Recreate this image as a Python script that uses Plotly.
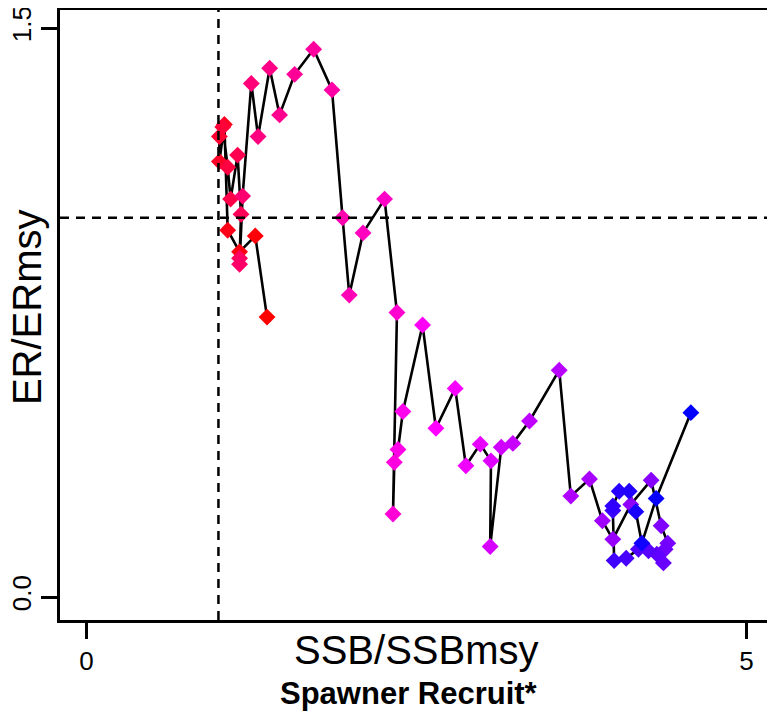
import plotly.graph_objects as go

# Data (time ordered: earliest first)
ssb_ratio = [1.368, 1.279, 1.160, 1.070, 1.045, 1.007, 1.007, 1.033, 1.070, 1.092,
             1.145, 1.171, 1.160, 1.160, 1.183, 1.249, 1.300, 1.388, 1.463, 1.577,
             1.721, 1.860, 1.940, 1.991, 2.095, 2.258, 2.352, 2.322, 2.332, 2.360,
             2.397, 2.546, 2.647, 2.793, 2.874, 2.983, 3.064, 3.058, 3.142, 3.230,
             3.356, 3.581, 3.669, 3.810, 3.908, 3.987, 4.123, 4.277, 4.353, 4.403,
             4.383, 4.370, 4.320, 4.257, 4.181, 4.088, 3.997, 3.987, 3.987, 4.035,
             4.111, 4.161, 4.207, 4.315, 4.578]
er_ratio = [0.738, 0.952, 0.910, 0.967, 1.246, 1.148, 1.214, 1.239, 1.133, 1.049,
            1.165, 1.009, 0.893, 0.877, 1.057, 1.354, 1.214, 1.394, 1.271, 1.378,
            1.444, 1.337, 1.000, 0.796, 0.960, 1.049, 0.750, 0.219, 0.355, 0.389,
            0.489, 0.717, 0.445, 0.550, 0.346, 0.403, 0.359, 0.133, 0.395, 0.405,
            0.464, 0.598, 0.266, 0.311, 0.201, 0.152, 0.244, 0.308, 0.188, 0.142,
            0.126, 0.090, 0.113, 0.122, 0.126, 0.102, 0.096, 0.228, 0.240, 0.279,
            0.279, 0.225, 0.142, 0.260, 0.486]
x_tick_vals = [0, 5]
x_tick_text = ["0", "5"]
y_tick_vals = [0.0, 1.5]
y_tick_text = ["0.0", "1.5"]
ref_ssb = 1.0
ref_er = 1.0

# colour ramp red -> magenta -> blue (style)
def ramp(n):
    stops = [(255, 0, 0), (255, 0, 255), (0, 0, 255)]
    out = []
    for i in range(n):
        t = i / (n - 1) * 2
        k = min(int(t), 1)
        f = t - k
        a, b = stops[k], stops[k + 1]
        c = [round(a[j] + (b[j] - a[j]) * f) for j in range(3)]
        out.append("rgb(%d,%d,%d)" % tuple(c))
    return out

colors = ramp(len(ssb_ratio))

FONT = "Liberation Sans Narrow, Liberation Sans, Arial, sans-serif"

fig = go.Figure()
fig.add_trace(go.Scatter(
    x=ssb_ratio, y=er_ratio, mode="lines+markers",
    line=dict(color="black", width=2.6),
    marker=dict(symbol="diamond", size=13, color=colors, line=dict(width=0)),
    showlegend=False, hoverinfo="x+y"))

fig.add_shape(type="line", xref="x", yref="paper", x0=ref_ssb, x1=ref_ssb, y0=0, y1=1,
              line=dict(color="black", width=2.5, dash="9px,7px"))
fig.add_shape(type="line", xref="paper", yref="y", x0=0, x1=1, y0=ref_er, y1=ref_er,
              line=dict(color="black", width=2.5, dash="9px,7px"))

# page has an 8px body margin, so the figure is 8px smaller than the window
fig.update_layout(
    width=767, height=711,
    margin=dict(l=52, r=2, t=2, b=99),
    plot_bgcolor="white", paper_bgcolor="white",
    font=dict(family=FONT, color="black"),
    xaxis=dict(range=[-0.2, 5.2], tickvals=x_tick_vals, ticktext=x_tick_text,
               showgrid=False, zeroline=False, showline=True, mirror=True,
               linecolor="black", linewidth=2.5, ticks="outside", ticklen=16,
               tickwidth=2.5, tickcolor="black", automargin=False,
               ticklabeloverflow="allow",
               tickfont=dict(size=26, family=FONT)),
    yaxis=dict(range=[-0.0606, 1.5476], tickvals=y_tick_vals, ticktext=y_tick_text,
               showgrid=False, zeroline=False, showline=True, mirror=True,
               linecolor="black", linewidth=2.5, ticks="outside", ticklen=16,
               tickwidth=2.5, tickcolor="black", tickangle=-90, automargin=False,
               ticklabeloverflow="allow",
               tickfont=dict(size=26, family=FONT)),
    annotations=[
        dict(text="SSB/SSBmsy", xref="paper", yref="paper", x=0.4993, y=-0.0492,
             xanchor="center", yanchor="middle", showarrow=False,
             font=dict(size=40, family=FONT)),
        dict(text="ER/ERmsy", xref="paper", yref="paper", x=-0.0463, y=0.513,
             xanchor="center", yanchor="middle", showarrow=False, textangle=-90,
             font=dict(size=40, family="Liberation Sans, Arial, sans-serif")),
        dict(text="<b>Spawner Recruit*</b>", xref="paper", yref="paper", x=0.4895, y=-0.1213,
             xanchor="center", yanchor="middle", showarrow=False,
             font=dict(size=31, family=FONT)),
    ],
)

fig.write_html("out.html")
